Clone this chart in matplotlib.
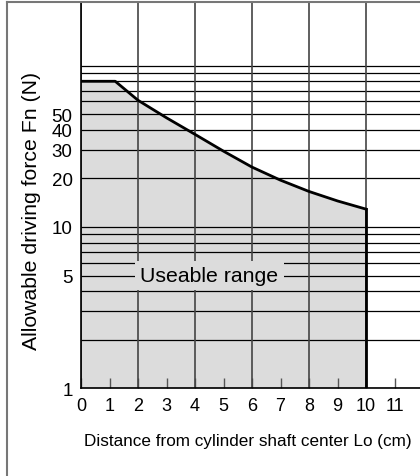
import matplotlib
matplotlib.use("Agg")
import matplotlib.pyplot as plt
from matplotlib.lines import Line2D

plt.rcParams['font.family'] = ['Liberation Sans', 'DejaVu Sans']

# --- data ---
distance_cm = [0, 1.2, 2, 3, 4, 5, 6, 7, 8, 9, 10]
force_n = [80, 80, 61, 47.5, 37.5, 29.5, 23.5, 19.5, 16.6, 14.5, 12.9]
x_ticks = [0, 1, 2, 3, 4, 5, 6, 7, 8, 9, 10, 11]
x_grid = [0, 2, 4, 6, 8, 10, 12]
y_grid = [1, 2, 3, 4, 5, 6, 7, 8, 9, 10, 20, 30, 40, 50, 60, 70, 80, 90, 100]
y_ticks = [1, 5, 10, 20, 30, 40, 50]
y_ticklabels = ['1', '5', '10', '20', '30', '40', '50']

W, H = 420, 477
fig = plt.figure(figsize=(W / 100, H / 100), dpi=100)
# axes runs past the right edge of the picture, like the cropped original
ax = fig.add_axes([81 / W, (H - 389.3) / H, 342 / W, 386.3 / H])

ax.set_yscale('log')
ax.set_xlim(0, 12)
ax.set_ylim(1, 248)

# usable region
ax.fill_between(distance_cm, 1, force_n, color='#dcdcdc', lw=0, zorder=1)

# grid
for v in y_grid:
    ax.axhline(v, color='black', lw=0.9, zorder=2)
for v in x_grid:
    ax.axvline(v, color='#444444', lw=1.2, zorder=2)

# limit curve
ax.plot(distance_cm, force_n, color='black', lw=2, zorder=4, solid_joinstyle='round')
ax.plot([distance_cm[-1], distance_cm[-1]], [1, force_n[-1]], color='black', lw=2, zorder=4)

ax.text(4.5, 5, 'Useable range', fontsize=15.3, ha='center', va='center', zorder=5,
        bbox=dict(boxstyle='square,pad=0.25', facecolor='#dcdcdc', edgecolor='none'))

ax.set_xticks(x_ticks)
ax.set_xticklabels([str(t) for t in x_ticks], fontsize=13)
ax.tick_params(axis='x', direction='in', length=7, width=1, color='#555555', pad=6)
ax.set_yticks(y_ticks)
ax.set_yticklabels(y_ticklabels, fontsize=13.5)
ax.yaxis.set_minor_locator(matplotlib.ticker.NullLocator())
ax.tick_params(axis='y', length=0, pad=6)

for side in ['top', 'right']:
    ax.spines[side].set_visible(False)
ax.spines['left'].set_linewidth(1.2)
ax.spines['bottom'].set_linewidth(1.2)

ax.set_xlabel('Distance from cylinder shaft center Lo (cm)', fontsize=12.3, va='center')
ax.xaxis.set_label_coords(0.487, -0.1356)
ax.set_ylabel('Allowable driving force Fn (N)', fontsize=15.3, va='center')
ax.yaxis.set_label_coords(-0.146, 0.4616)

# outer frame (top and left)
top = (H - 3) / H
fig.add_artist(Line2D([7 / W, 1], [top, top], color='#777777', lw=1.5))
fig.add_artist(Line2D([7 / W, 7 / W], [0, top], color='#777777', lw=1.5))

fig.savefig('out.png', dpi=100)
